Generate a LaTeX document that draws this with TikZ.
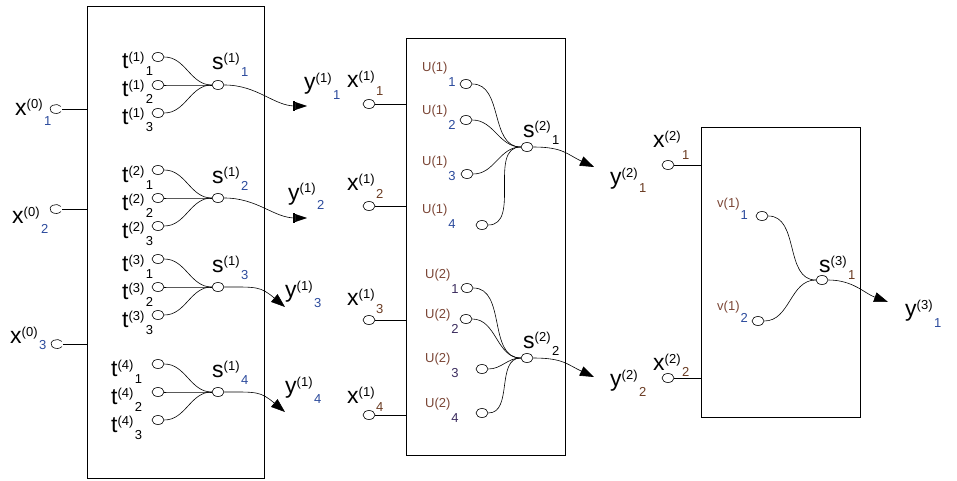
\documentclass[tikz,border=0pt]{standalone}
\usepackage{fontspec}
\setmainfont{Liberation Sans}
\usetikzlibrary{arrows.meta,positioning,shapes.geometric,calc}
\definecolor{SubBlue}{HTML}{2B4A9C}
\definecolor{SubBrown}{HTML}{6A3B22}
\definecolor{UBrown}{HTML}{7B4636}
\definecolor{SubPurple}{HTML}{3B2C5E}

\newcommand{\supsz}{\fontsize{13}{13}\selectfont}
% letter, superscript, then the index set lower down
\newcommand{\lbl}[5][8pt]{#2\raisebox{7pt}{\supsz #3}\hspace{1.5pt}\raisebox{-#1}{\supsz\color{#5}#4}}
\newcommand{\ulbl}[4][15pt]{{\color{UBrown}#2}\hspace{1pt}\raisebox{-#1}{\color{#4}#3}}

\begin{document}
\begin{tikzpicture}[x=1pt,y=1pt,
  layer/.style={draw, line width=0.8pt, inner sep=0pt},
  port/.style={ellipse, draw, line width=0.6pt, minimum width=12pt,
               minimum height=9pt, inner sep=0pt},
  inport/.style={ellipse, minimum width=12pt, minimum height=9pt, inner sep=0pt},
  wire/.style={line width=0.6pt},
  lab/.style={anchor=base west, inner sep=0pt, font=\fontsize{23}{23}\selectfont},
  ulab/.style={anchor=base west, inner sep=0pt, font=\fontsize{13}{13}\selectfont},
  tri/.style={-{Triangle[length=14pt,width=10pt]}},
  bartri/.style={-{Rectangle[length=2pt,width=10pt]Triangle[length=12pt,width=8pt]}}]
  \useasboundingbox (0,0) rectangle (957,480);

  % the three layers
  \node[layer, minimum width=177pt, minimum height=472pt] (L1) at (175.5,238) {};
  \node[layer, minimum width=159pt, minimum height=417pt] (L2) at (485.5,233.5) {};
  \node[layer, minimum width=159pt, minimum height=290pt] (L3) at (780.5,208) {};

  % inputs of layer 1
  \node[inport] (x01) at (56,371) {};
  \node[inport] (x02) at (56,271) {};
  \node[inport] (x03) at (57,136) {};
  \node[lab] (lx01) at (15,364) {\lbl[10pt]{x}{(0)}{1}{SubBlue}};
  \node[lab] (lx02) at (12,257) {\lbl[10pt]{x}{(0)}{2}{SubBlue}};
  \node[lab] (lx03) at (10,137) {\lbl[6pt]{x}{(0)}{3}{SubBlue}};
  \foreach \i in {1,2,3} {
    \draw[wire] ([shift={(35:6pt and 4.5pt)}]x0\i.center)
      arc[start angle=35, end angle=325, x radius=6pt, y radius=4.5pt];
    \draw[wire] (x0\i.east) -- (x0\i.east -| L1.west);
  }

  % t groups feeding s^(1)
  \foreach \g/\sy/\tx in {1/395/122, 2/282/122, 3/193/122, 4/88/111} {
    \node[port] (s1\g) at (218,\sy) {};
    \node[lab] (ls1\g) at (212,\sy+15) {\lbl[7pt]{s}{(1)}{\g}{SubBlue}};
    \foreach \r/\dy in {1/28, 2/0, 3/-28} {
      \node[port] (t\g\r) at (158,\sy+\dy) {};
      \node[lab] (lt\g\r) at (\tx,\sy+\dy-12) {\lbl[7pt]{t}{(\g)}{\r}{black}};
      \draw[wire] (t\g\r) to[out=0,in=180] (s1\g);
    }
  }
  \coordinate (a1) at (307,374);
  \coordinate (a2) at (307,262);
  \coordinate (a3) at (285,173);
  \coordinate (a4) at (285,68);
  \draw[wire, bartri] (s11) to[out=0,in=180] (a1);
  \draw[wire, bartri] (s12) to[out=0,in=180] (a2);
  \draw[wire, tri] (s13) to[out=0,in=140,looseness=1.3] (a3);
  \draw[wire, tri] (s14) to[out=0,in=140,looseness=1.3] (a4);
  \node[lab] (ly11) at (304,390) {\lbl[10pt]{y}{(1)}{1}{SubBlue}};
  \node[lab] (ly12) at (288,280) {\lbl[10pt]{y}{(1)}{2}{SubBlue}};
  \node[lab] (ly13) at (285,183) {\lbl[10pt]{y}{(1)}{3}{SubBlue}};
  \node[lab] (ly14) at (285,87) {\lbl[10pt]{y}{(1)}{4}{SubBlue}};

  % layer 2
  \foreach \i/\py/\ly in {1/376/392, 2/274/290, 3/160/175, 4/65/77} {
    \node[port] (x1\i) at (369,\py) {};
    \node[lab] (lx1\i) at (347,\ly) {\lbl[8pt]{x}{(1)}{\i}{SubBrown}};
    \draw[wire] (x1\i.east) -- (x1\i.east -| L2.west);
  }
  \node[port] (s21) at (527,333) {};
  \node[port] (s22) at (527,122) {};
  \node[lab] (ls21) at (523,342) {\lbl[7pt]{s}{(2)}{1}{black}};
  \node[lab] (ls22) at (523,132) {\lbl[7pt]{s}{(2)}{2}{black}};
  \foreach \k/\ux/\uy/\ly in {1/466/396/408, 2/466/360/365, 3/467/306/315, 4/482/255/267} {
    \node[port] (u1\k) at (\ux,\uy) {};
    \node[ulab] (lu1\k) at (422,\ly) {\ulbl{U(1)}{\k}{SubBlue}};
    \draw[wire] (u1\k) to[out=0,in=180] (s21);
  }
  \foreach \k/\ux/\uy/\ly in {1/467/192/202, 2/466/161/162, 3/482/111/118, 4/482/67/73} {
    \node[port] (u2\k) at (\ux,\uy) {};
    \node[ulab] (lu2\k) at (425,\ly) {\ulbl{U(2)}{\k}{SubPurple}};
    \draw[wire] (u2\k) to[out=0,in=180] (s22);
  }
  \coordinate (b1) at (594,313);
  \coordinate (b2) at (594,103);
  \draw[wire, tri] (s21) to[out=0,in=155,looseness=1.2] (b1);
  \draw[wire, tri] (s22) to[out=0,in=155,looseness=1.2] (b2);
  \node[lab] (ly21) at (610,296) {\lbl[8pt]{y}{(2)}{1}{SubBrown}};
  \node[lab] (ly22) at (610,94) {\lbl[10pt]{y}{(2)}{2}{SubBrown}};

  % layer 3
  \node[port] (x21) at (668,315) {};
  \node[port] (x22) at (668,102) {};
  \node[lab] (lx21) at (653,332) {\lbl[12pt]{x}{(2)}{1}{SubBrown}};
  \node[lab] (lx22) at (653,110) {\lbl[6pt]{x}{(2)}{2}{SubBrown}};
  \draw[wire] (x21.east) -- (x21.east -| L3.west);
  \draw[wire] (x22.east) -- (x22.east -| L3.west);
  \node[port] (v1) at (762,264) {};
  \node[port] (v2) at (758,159) {};
  \node[ulab] (lv1) at (717,273) {\ulbl[12pt]{v(1)}{1}{SubBlue}};
  \node[ulab] (lv2) at (717,170) {\ulbl[12pt]{v(1)}{2}{SubBlue}};
  \node[port] (s31) at (822,200) {};
  \node[lab] (ls31) at (819,208) {\lbl[7pt]{s}{(3)}{1}{SubBrown}};
  \draw[wire] (v1) to[out=0,in=180] (s31);
  \draw[wire] (v2) to[out=0,in=180] (s31);
  \coordinate (c1) at (888,178);
  \draw[wire, tri] (s31) to[out=0,in=160] (c1);
  \node[lab] (ly31) at (905,164) {\lbl[11pt]{y}{(3)}{1}{SubBlue}};
\end{tikzpicture}
\end{document}
